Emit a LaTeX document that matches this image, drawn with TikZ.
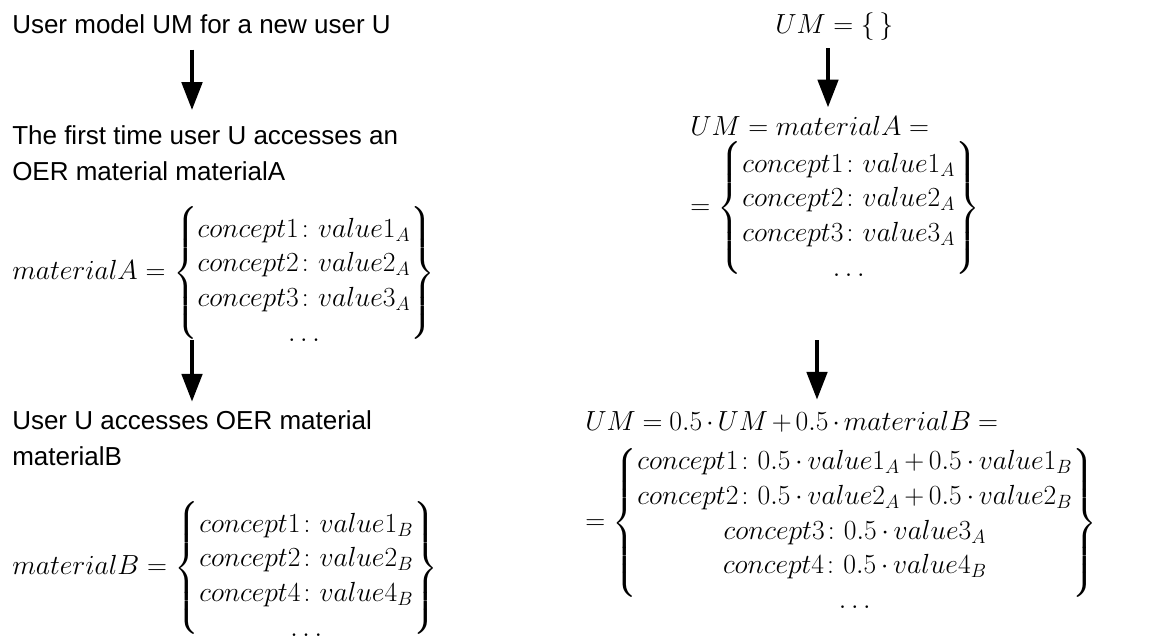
\documentclass[tikz,border=0pt]{standalone}
\usepackage{amsmath}
\usepackage{fontspec}
\setmainfont{Liberation Sans}
\usetikzlibrary{arrows.meta}
% braces sized a little short of the matrix rows
\delimiterfactor=880\relax
\delimitershortfall=40pt\relax
% a braced column of rows, set a little low inside its braces
\newcommand{\rowset}[1]{\left\{\vphantom{\begin{matrix}#1\end{matrix}}%
  \smash{\lower6.8pt\hbox{$\begin{matrix}#1\end{matrix}$}}\right\}}
\begin{document}
\begin{tikzpicture}[x=0.75pt,y=-0.75pt,
  lbl/.style={inner sep=0pt, font=\fontsize{19.5}{27}\selectfont, align=left},
  eq/.style={inner sep=0pt, font=\fontsize{20.2}{26}\selectfont},
  flow/.style={line width=3.6pt, -{Triangle[width=15pt,length=21pt]}},
]
\useasboundingbox (0,0) rectangle (1162,637);

% left column: the steps in words and the two materials
\node[lbl, anchor=base west] (t1) at (12,33) {User model UM for a new user U};
\node[lbl, anchor=base west] (t2) at (12,180) {The first time user U accesses an\\OER material materialA};
\node[eq, anchor=west] (mA) at (12,273) {$materialA = \rowset{
  concept1\colon value1_A\\
  concept2\colon value2_A\\
  concept3\colon value3_A\\
  \ldots}$};
\node[lbl, anchor=base west] (t3) at (12,465) {User U accesses OER material\\materialB};
\node[eq, anchor=west] (mB) at (12,568) {$materialB = \rowset{
  concept1\colon value1_B\\
  concept2\colon value2_B\\
  concept4\colon value4_B\\
  \ldots}$};

% right column: the user model after each step
\node[eq, anchor=base west] (u0) at (775,33) {$UM = \{\,\}$};
\node[eq, anchor=base west] (u1) at (690,135) {$UM = materialA =$};
\node[eq, anchor=west] (m1) at (690,208) {$= \rowset{
  concept1\colon value1_A\\
  concept2\colon value2_A\\
  concept3\colon value3_A\\
  \ldots}$};
\node[eq, anchor=base west] (u2) at (585,430) {$\medmuskip=2.5mu\relax\thickmuskip=4.5mu\relax
  UM = 0.5\cdot UM + 0.5\cdot materialB =$};
\node[eq, anchor=west] (m2) at (585,523) {$\delimiterfactor=850\relax\medmuskip=3mu\relax
  = \rowset{
  concept1\colon 0.5\cdot value1_A + 0.5\cdot value1_B\\
  concept2\colon 0.5\cdot value2_A + 0.5\cdot value2_B\\
  concept3\colon 0.5\cdot value3_A\\
  concept4\colon 0.5\cdot value4_B\\
  \ldots}$};

% arrow columns
\coordinate (xl) at (192,0);
\coordinate (xr1) at (828,0);
\coordinate (xr2) at (817,0);

\draw[flow, shorten <=12pt, shorten >=11pt] (t1.south -| xl) -- (t2.north -| xl);
\draw[flow, shorten <=-2pt, shorten >=6pt] (mA.south -| xl) -- (t3.north -| xl);
\draw[flow, shorten <=6pt, shorten >=6pt] (u0.south -| xr1) -- (u1.north -| xr1);
\draw[flow, shorten <=47pt, shorten >=8pt] (m1.south -| xr2) -- (u2.north -| xr2);
\end{tikzpicture}
\end{document}
